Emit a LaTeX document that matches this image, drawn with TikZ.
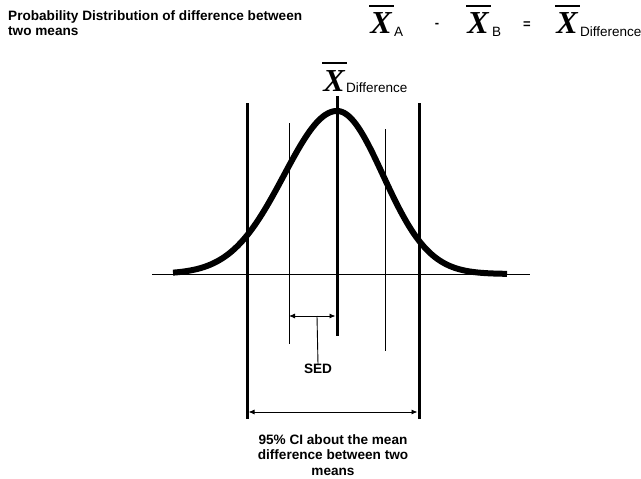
\documentclass[tikz,border=0pt]{standalone}
\usepackage{fontspec}
\setmainfont{Liberation Sans}
\newfontfamily\serifX{Liberation Serif}
\usetikzlibrary{arrows.meta}
\tikzset{
  thickline/.style={line width=3pt},
  thinline/.style={line width=0.9pt},
  barline/.style={line width=2pt},
  curveline/.style={line width=6pt, line join=round},
  dimarrow/.style={line width=0.9pt, {Latex[length=6pt,width=5pt]}-{Latex[length=6pt,width=5pt]}},
  lbl/.style={font=\fontsize{13.6}{15.2}\selectfont\bfseries, inner sep=0pt, align=center},
  bigX/.style={font=\fontsize{32}{32}\selectfont\serifX\bfseries\itshape, inner sep=0pt, anchor=base},
  subt/.style={font=\fontsize{13.5}{13.5}\selectfont, inner sep=0pt, anchor=base west},
  opsym/.style={font=\fontsize{13}{13}\selectfont\bfseries, inner sep=0pt}
}
\begin{document}
\begin{tikzpicture}[x=1pt,y=-1pt]
\useasboundingbox (0,0) rectangle (641,479);
% title
\node[lbl, anchor=north west, align=left] (title) at (8,10) {Probability Distribution of difference between\\two means};
% formula
\node[bigX] (xa) at (381,33) {X};
\draw[barline] (369,6) -- (394,6);
\node[subt] (sa) at (394,37) {A};
\node[opsym] (minus) at (437,25) {-};
\node[bigX] (xb) at (478,33) {X};
\draw[barline] (466,6) -- (491,6);
\node[subt] (sb) at (492,37) {B};
\node[opsym] (eq) at (527,25) {=};
\node[bigX] (xd) at (567,33) {X};
\draw[barline] (555,6) -- (580,6);
\node[subt] (sd) at (580,36) {Difference};
% centre label
\node[bigX] (xc) at (334,91) {X};
\draw[barline] (322,63) -- (347,63);
\node[subt] (sc) at (346,92) {Difference};
% axis
\coordinate (axL) at (152,274);
\coordinate (axR) at (530,274);
\draw[thinline] (axL) -- (axR);
% curve
\draw[curveline] plot[domain=173:337, samples=120] (\x, {274-163*exp(-((\x-337)/53)^2/2)})
  -- plot[domain=337:507, samples=120] (\x, {274-163*exp(-((\x-337)/46)^2/2)});
% vertical lines
\coordinate (Ltop) at (247,103); \coordinate (Lbot) at (247,419);
\coordinate (Rtop) at (419,103); \coordinate (Rbot) at (419,419);
\coordinate (Ctop) at (337,96);  \coordinate (Cbot) at (337,336);
\coordinate (lTop) at (289,123); \coordinate (lBot) at (289,344);
\coordinate (rTop) at (385,129); \coordinate (rBot) at (385,351);
\draw[thickline] (Ltop) -- (Lbot);
\draw[thickline] (Rtop) -- (Rbot);
\draw[thickline] (Ctop) -- (Cbot);
\draw[thinline] (lTop) -- (lBot);
\draw[thinline] (rTop) -- (rBot);
% SED
\coordinate (sedL) at (289,316);
\coordinate (sedR) at (335.5,316);
\draw[dimarrow] (sedL) -- (sedR);
\coordinate (sedTop) at (317,316);
\node[lbl] (sed) at (318,369) {SED};
\draw[thinline] (sedTop) -- (sed.north);
% CI
\coordinate (ciL) at (248.5,412);
\coordinate (ciR) at (417.5,412);
\draw[dimarrow] (ciL) -- (ciR);
\node[lbl] (ci) at (333,455) {95\% CI about the mean\\difference between two\\means};
\end{tikzpicture}
\end{document}
